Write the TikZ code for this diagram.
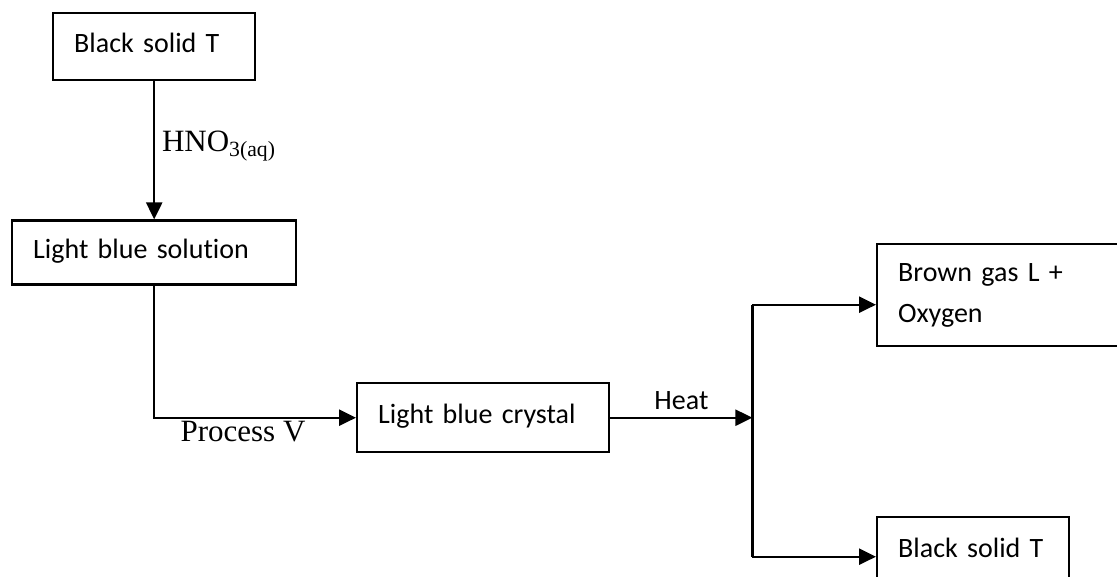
\documentclass[tikz,border=0pt]{standalone}
\usepackage{fontspec}
\setmainfont{Carlito}[Ligatures={NoCommon}]
\newfontfamily\serifface{Liberation Serif}
\usetikzlibrary{arrows.meta, positioning}
\tikzset{
  stepbox/.style={rectangle, draw=black, line width=1.2pt, align=left, inner xsep=10.5pt,
    font=\fontsize{14}{20.5}\selectfont},
  onelinebox/.style={stepbox, text height=10pt, text depth=4pt},
  arrow/.style={-{Triangle[length=8.5pt,width=8pt]}, line width=1.2pt},
  plainline/.style={line width=1.2pt},
  labeltext/.style={font=\fontsize{14}{17}\selectfont},
  serifnote/.style={font=\serifface\fontsize{15.5}{18}\selectfont}
}

\begin{document}
\begin{tikzpicture}[x=0.5pt, y=-0.5pt]
  \useasboundingbox (0,0) rectangle (1117,577);

  \node[onelinebox, text width=80pt, minimum height=33.5pt, anchor=north west] (blackT) at (52,12) {Black solid T};
  \node[onelinebox, text width=121pt, minimum height=32pt, below=69pt of blackT] (solution) {Light blue solution};
  \node[onelinebox, text width=105pt, minimum height=34.5pt, anchor=north west] (crystal) at (356,382) {Light blue crystal};
  \node[stepbox, text width=105pt, minimum height=51pt, anchor=north west] (gas) at (876,243) {Brown gas L +\\Oxygen};
  \node[onelinebox, text width=75pt, minimum height=34.5pt, anchor=north west] (residue) at (876,516) {Black solid T};

  % fork after heating
  \path (crystal.east) ++(142,0) coordinate (fork);
  \path (fork) ++(0,-113) coordinate (forktop);
  \path (fork) ++(0,139) coordinate (forkbot);

  \draw[arrow] (blackT) -- node[right, serifnote, yshift=2pt] {HNO\textsubscript{3(aq)}} (solution);
  \draw[arrow] (solution) |- node[pos=0.72, yshift=-7pt, serifnote] {Process V} (crystal);
  \draw[arrow] (crystal) -- node[above, labeltext] {Heat} (fork);
  \draw[plainline] (forktop) -- (forkbot);
  \draw[arrow] (forktop) -- (forktop -| gas.west);
  \draw[arrow] (forkbot) -- (forkbot -| residue.west);
\end{tikzpicture}
\end{document}
